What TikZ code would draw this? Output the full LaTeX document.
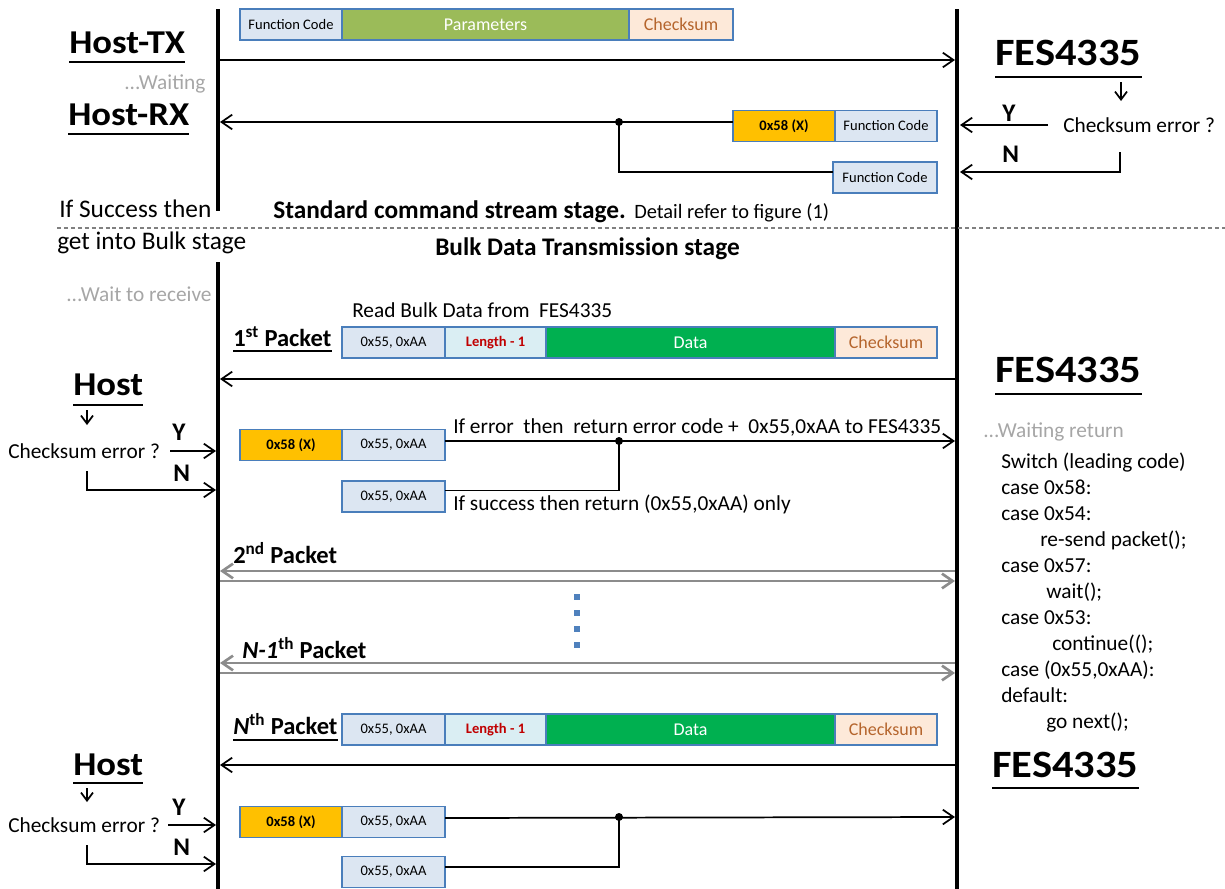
\documentclass[tikz,border=0pt]{standalone}
\usepackage{fontspec}
\setmainfont{Carlito}
\usetikzlibrary{arrows.meta,calc}
\definecolor{bblue}{HTML}{4A7EBB}
\definecolor{lblue}{HTML}{DCE6F2}
\definecolor{lcyan}{HTML}{DAEEF3}
\definecolor{peach}{HTML}{FDE9D9}
\definecolor{olivefill}{HTML}{9BBB59}
\definecolor{dgreen}{HTML}{00B050}
\definecolor{amber}{HTML}{FFC000}
\definecolor{cktext}{HTML}{B5652D}
\definecolor{lenred}{HTML}{C00000}
\definecolor{waitgray}{HTML}{A6A6A6}
\definecolor{dashgray}{HTML}{808080}
\definecolor{pktgray}{HTML}{8C8C8C}
\definecolor{dotblue}{HTML}{4F81BD}
\newcommand{\setfs}[1]{\fontsize{#1}{#1}\selectfont}
\begin{document}
\begin{tikzpicture}[x=0.75pt,y=-0.75pt,
  life/.style={line width=3pt},
  msg/.style={line width=1.3pt,-{Straight Barb[length=8pt,width=11pt]}},
  smallmsg/.style={line width=1.3pt,-{Straight Barb[length=6pt,width=9pt]}},
  gmsg/.style={line width=2pt,draw=pktgray,-{Straight Barb[length=8pt,width=11pt]}},
  plain/.style={line width=1.3pt},
  uline/.style={line width=1.5pt},
  cell/.style={draw=bblue,line width=1.2pt,minimum height=23.25pt,inner sep=0pt,outer sep=0pt,anchor=west,font=\setfs{10.9}},
  mid/.style={font=\setfs{13.5}},
  head/.style={font=\bfseries\setfs{25},inner sep=0pt,anchor=base west},
  fes/.style={font=\bfseries\setfs{29},inner sep=0pt,anchor=base west},
  txt/.style={font=\setfs{16},inner sep=0pt,anchor=base west},
  big/.style={font=\setfs{19},inner sep=0pt,anchor=base west},
  bigb/.style={font=\bfseries\setfs{19},inner sep=0pt,anchor=base west},
  yn/.style={font=\bfseries\setfs{19},inner sep=0pt,anchor=base west},
  pkt/.style={font=\bfseries\setfs{18.4},inner sep=0pt,anchor=base west},
  junc/.style={circle,fill=black,inner sep=0pt,minimum size=6pt},
  dot/.style={rectangle,fill=dotblue,inner sep=0pt,minimum size=4.5pt},
]
\useasboundingbox (0,0) rectangle (1225,889);

% ---------- lifelines ----------
\coordinate (LA) at (218,9);   \coordinate (LB) at (218,211);
\coordinate (LC) at (218,262); \coordinate (LD) at (218,889);
\coordinate (RA) at (957,9);   \coordinate (RB) at (957,889);
\draw[life] (LA) -- (LB);
\draw[life] (LC) -- (LD);
\draw[life] (RA) -- (RB);

% ---------- standard stage ----------
\node[cell,fill=lblue,minimum width=76.5pt] (fc1) at (240,24.5) {Function Code};
\node[cell,fill=olivefill,minimum width=215.25pt,mid,text=white] (par) at (fc1.east) {Parameters};
\node[cell,fill=peach,minimum width=78pt,mid,text=cktext] (ck1) at (par.east) {Checksum};

\node[head] (htx) at (69,53) {\scalebox{1.1}[1]{Host-TX}};
\draw[uline] ([yshift=-6.75pt]htx.base west) -- ([yshift=-6.75pt]htx.base east);
\node[txt,text=waitgray] (w1) at (124,89) {...Waiting};
\node[head] (hrx) at (68,125) {\scalebox{1.1}[1]{Host-RX}};
\draw[uline] ([yshift=-6.75pt]hrx.base west) -- ([yshift=-6.75pt]hrx.base east);

\coordinate (txL) at (220,60); \coordinate (txR) at (955,60);
\draw[msg] (txL) -- (txR);

\node[cell,fill=amber,minimum width=76.5pt,font=\bfseries\setfs{10.9}] (e1) at (733,126) {0x58 (X)};
\node[cell,fill=lblue,minimum width=76.5pt] (fc2) at (e1.east) {Function Code};
\node[cell,fill=lblue,minimum width=78pt] (fc3) at (833,177.5) {Function Code};
\coordinate (rxL) at (220,122);
\node[junc] (j1) at (619,122) {};
\draw[msg] ([yshift=3pt]e1.west) -- (rxL);
\draw[plain] (j1.center) |- ([yshift=4pt]fc3.west);

\node[fes] (fes1) at (995,65) {\scalebox{1.1}[1]{FES4335}};
\draw[uline] ([yshift=-9pt]fes1.base west) -- ([yshift=-9pt]fes1.base east);
\coordinate (da1s) at (1121,82); \coordinate (da1e) at (1121,101);
\draw[smallmsg] (da1s) -- (da1e);
\node[txt] (ce1) at (1063,132) {Checksum error ?};
\node[yn] (y1) at (1002,121) {Y};
\node[yn] (n1) at (1002,162) {N};
\coordinate (cy1) at (1048,125); \coordinate (ry1) at (960,125);
\draw[msg] (cy1) -- (ry1);
\coordinate (cn1) at (1120,152); \coordinate (rn1) at (960,172);
\draw[msg] (cn1) |- (rn1);

\node[big] (succ1) at (59,217) {If Success then};
\node[big] (succ2) at (57,249) {get into Bulk stage};
\node[bigb] (std) at (273,218) {Standard command stream stage.};
\node[txt,font=\setfs{15.3}] (det) at (634,218) {Detail refer to figure (1)};
\coordinate (dsA) at (57,228); \coordinate (dsB) at (1225,228);
\draw[dashgray,line width=1pt,dash pattern=on 3pt off 2.2pt] (dsA) -- (dsB);
\node[bigb] (bulk) at (435,255) {Bulk Data Transmission stage};

% ---------- bulk stage: 1st packet ----------
\node[txt,text=waitgray] (w2) at (66,301) {...Wait to receive};
\node[txt] (rb) at (352,317) {Read Bulk Data from\ \ FES4335};
\node[pkt] (p1) at (233,346) {1\textsuperscript{st} Packet};
\draw[uline] ([yshift=-3.5pt]p1.base west) -- ([yshift=-3.5pt]p1.base east);
\node[cell,fill=lblue,minimum width=77.25pt] (a1) at (342,342.5) {0x55, 0xAA};
\node[cell,fill=lcyan,minimum width=75.75pt,font=\bfseries\setfs{10.9},text=lenred] (len1) at (a1.east) {Length - 1};
\node[cell,fill=dgreen,minimum width=216.75pt,mid,text=white] (d1) at (len1.east) {Data};
\node[cell,fill=peach,minimum width=76.5pt,mid,text=cktext] (ck2) at (d1.east) {Checksum};
\coordinate (b1R) at (955,379); \coordinate (b1L) at (220,379);
\draw[msg] (b1R) -- (b1L);

\node[fes] (fes2) at (995,382) {\scalebox{1.1}[1]{FES4335}};
\draw[uline] ([yshift=-9pt]fes2.base west) -- ([yshift=-9pt]fes2.base east);

\node[head] (h1) at (73,395) {\scalebox{1.1}[1]{Host}};
\draw[uline] ([yshift=-7.5pt]h1.base west) -- ([yshift=-7.5pt]h1.base east);
\coordinate (da2s) at (87,410); \coordinate (da2e) at (87,425);
\draw[smallmsg] (da2s) -- (da2e);
\node[txt] (ce2) at (8,458) {Checksum error ?};
\node[yn] (y2) at (172,440) {Y};
\node[yn] (n2) at (173,481) {N};
\coordinate (cy2) at (170,451); \coordinate (ly2) at (216,451);
\draw[msg] (cy2) -- (ly2);
\coordinate (cn2) at (87,471); \coordinate (ln2) at (216,490);
\draw[msg] (cn2) |- (ln2);

\node[cell,fill=amber,minimum width=76.5pt,font=\bfseries\setfs{10.9}] (e2) at (240,445) {0x58 (X)};
\node[cell,fill=lblue,minimum width=77.25pt] (a2) at (e2.east) {0x55, 0xAA};
\node[cell,fill=lblue,minimum width=77.25pt] (a3) at (342,496.5) {0x55, 0xAA};
\node[junc] (j2) at (619,441) {};
\coordinate (r2) at (955,441);
\draw[msg] ([yshift=3pt]a2.east) -- (r2);
\draw[plain] (j2.center) |- ([yshift=4.5pt]a3.east);
\node[txt] (ie) at (453,433) {If error\ \ then\ \ return error code +\ \ 0x55,0xAA to FES4335};
\node[txt] (is) at (453,510) {If success then return (0x55,0xAA) only};

% ---------- switch code ----------
\node[txt,text=waitgray] (w3) at (983,437) {...Waiting return};
\node[txt] (c1) at (1001,468) {Switch (leading code)};
\node[txt] (c2) at (1001,494) {case 0x58:};
\node[txt] (c3) at (1001,520) {case 0x54:};
\node[txt] (c4) at (1040,546) {re-send packet();};
\node[txt] (c5) at (1001,572) {case 0x57:};
\node[txt] (c6) at (1046,598) {wait();};
\node[txt] (c7) at (1001,624) {case 0x53:};
\node[txt] (c8) at (1052,650) {continue(();};
\node[txt] (c9) at (1001,676) {case (0x55,0xAA):};
\node[txt] (c10) at (1001,702) {default:};
\node[txt] (c11) at (1046,728) {go next();};

% ---------- 2nd ... N-1th ----------
\node[pkt] (p2) at (233,563) {2\textsuperscript{nd} Packet};
\coordinate (g1R) at (955,571); \coordinate (g1L) at (220,571);
\coordinate (g2L) at (220,581); \coordinate (g2R) at (955,581);
\draw[gmsg] (g1R) -- (g1L);
\draw[gmsg] (g2L) -- (g2R);
\node[dot] (dt1) at (577,597) {};
\node[dot] (dt2) at (577,613) {};
\node[dot] (dt3) at (577,629) {};
\node[dot] (dt4) at (577,645) {};
\node[pkt] (p3) at (242,658) {\textit{N-1}\textsuperscript{th} Packet};
\coordinate (g3R) at (955,663); \coordinate (g3L) at (220,663);
\coordinate (g4L) at (220,673); \coordinate (g4R) at (955,673);
\draw[gmsg] (g3R) -- (g3L);
\draw[gmsg] (g4L) -- (g4R);

% ---------- Nth packet ----------
\node[pkt] (p4) at (233,734) {\textit{N}\textsuperscript{th} Packet};
\draw[uline] ([yshift=-4.5pt]p4.base west) -- ([yshift=-4.5pt]p4.base east);
\node[cell,fill=lblue,minimum width=77.25pt] (a4) at (342,729.5) {0x55, 0xAA};
\node[cell,fill=lcyan,minimum width=75.75pt,font=\bfseries\setfs{10.9},text=lenred] (len2) at (a4.east) {Length - 1};
\node[cell,fill=dgreen,minimum width=216.75pt,mid,text=white] (d2) at (len2.east) {Data};
\node[cell,fill=peach,minimum width=76.5pt,mid,text=cktext] (ck3) at (d2.east) {Checksum};
\coordinate (b2R) at (955,765); \coordinate (b2L) at (220,765);
\draw[msg] (b2R) -- (b2L);

\node[fes] (fes3) at (992,777) {\scalebox{1.1}[1]{FES4335}};
\draw[uline] ([yshift=-8.25pt]fes3.base west) -- ([yshift=-8.25pt]fes3.base east);

\node[head] (h2) at (73,775) {\scalebox{1.1}[1]{Host}};
\draw[uline] ([yshift=-6pt]h2.base west) -- ([yshift=-6pt]h2.base east);
\coordinate (da3s) at (87,788); \coordinate (da3e) at (87,802);
\draw[smallmsg] (da3s) -- (da3e);
\node[txt] (ce3) at (8,832) {Checksum error ?};
\node[yn] (y3) at (172,815) {Y};
\node[yn] (n3) at (173,855) {N};
\coordinate (cy3) at (168,825); \coordinate (ly3) at (216,825);
\draw[msg] (cy3) -- (ly3);
\coordinate (cn3) at (87,845); \coordinate (ln3) at (216,864);
\draw[msg] (cn3) |- (ln3);

\node[cell,fill=amber,minimum width=76.5pt,font=\bfseries\setfs{10.9}] (e3) at (240,822) {0x58 (X)};
\node[cell,fill=lblue,minimum width=77.25pt] (a5) at (e3.east) {0x55, 0xAA};
\node[cell,fill=lblue,minimum width=77.25pt] (a6) at (342,872) {0x55, 0xAA};
\node[junc] (j3) at (619,817) {};
\coordinate (r3) at (955,817);
\draw[msg] ([yshift=3pt]a5.east) -- (r3);
\draw[plain] (j3.center) |- ([yshift=3.75pt]a6.east);
\end{tikzpicture}
\end{document}
